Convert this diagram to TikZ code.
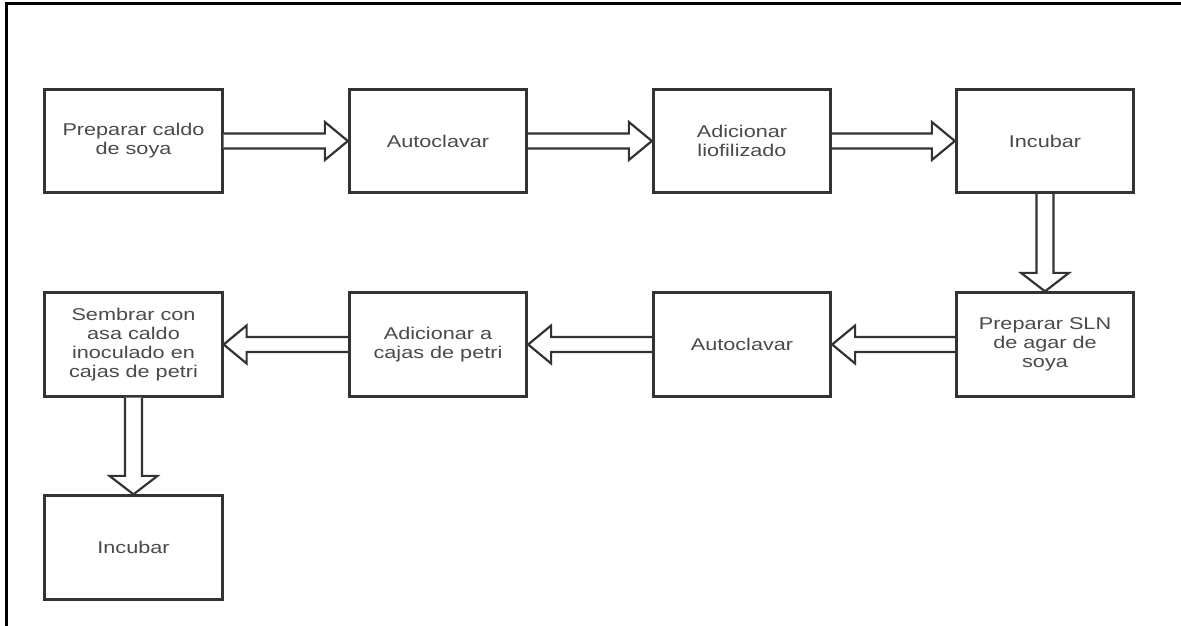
\documentclass[tikz,border=0pt]{standalone}
\usepackage{fontspec}
\setmainfont[FakeStretch=1.27]{Liberation Sans}
\usetikzlibrary{calc}

\definecolor{boxline}{HTML}{333333}
\definecolor{boxtext}{HTML}{4A4A4A}

\tikzset{
  stepbox/.style={draw=boxline, line width=1.6pt, fill=white, minimum width=3.55cm, minimum height=2.07cm,
    align=center, text=boxtext, font=\fontsize{9.7}{10.9}\selectfont, inner sep=2pt},
  flowline/.style={draw=boxline, line width=1.25pt, line join=miter, fill=white},
  frameline/.style={draw=black, line width=1.6pt}
}

% hollow arrow: from, to, shaft half width, head half width, head length
\newcommand{\flowarrow}[5]{%
  \coordinate (fa) at (#1);
  \coordinate (fb) at (#2);
  \coordinate (fh) at ($(fb)!#5!(fa)$);
  \draw[flowline] ($(fa)!#3!90:(fb)$) -- ($(fh)!#3!90:(fb)$) -- ($(fh)!#4!90:(fb)$) -- (fb)
    -- ($(fh)!#4!-90:(fb)$) -- ($(fh)!#3!-90:(fb)$) -- ($(fa)!#3!-90:(fb)$);
}

\begin{document}
\begin{tikzpicture}[x=0.02cm, y=-0.02cm]
\fill[white] (0,0) rectangle (1181,626);
\useasboundingbox (0,0) rectangle (1181,626);
\draw[frameline] (1181,3.5) -- (6.5,3.5) -- (6.5,626);

% first row
\node[stepbox] (soya) at (133.5,141) {Preparar caldo\\de soya};
\node[stepbox] (auto1) at (438,141) {Autoclavar};
\node[stepbox] (liof) at (742,141) {Adicionar\\liofilizado};
\node[stepbox] (incub1) at (1045,141) {Incubar};

% second row
\node[stepbox] (agar) at (1045,344.5) {Preparar SLN\\de agar de\\soya};
\node[stepbox] (auto2) at (742,344.5) {Autoclavar};
\node[stepbox] (cajas) at (438,344.5) {Adicionar a\\cajas de petri};
\node[stepbox] (sembrar) at (133.5,344.5) {Sembrar con\\asa caldo\\inoculado en\\cajas de petri};

% third row
\node[stepbox] (incub2) at (133.5,547.5) {Incubar};

\flowarrow{soya.east}{auto1.west}{0.15cm}{0.38cm}{0.46cm}
\flowarrow{auto1.east}{liof.west}{0.15cm}{0.38cm}{0.46cm}
\flowarrow{liof.east}{incub1.west}{0.15cm}{0.38cm}{0.46cm}
\flowarrow{incub1.south}{agar.north}{0.17cm}{0.48cm}{0.37cm}
\flowarrow{agar.west}{auto2.east}{0.15cm}{0.38cm}{0.46cm}
\flowarrow{auto2.west}{cajas.east}{0.15cm}{0.38cm}{0.46cm}
\flowarrow{cajas.west}{sembrar.east}{0.15cm}{0.38cm}{0.46cm}
\flowarrow{sembrar.south}{incub2.north}{0.17cm}{0.48cm}{0.37cm}
\end{tikzpicture}
\end{document}
